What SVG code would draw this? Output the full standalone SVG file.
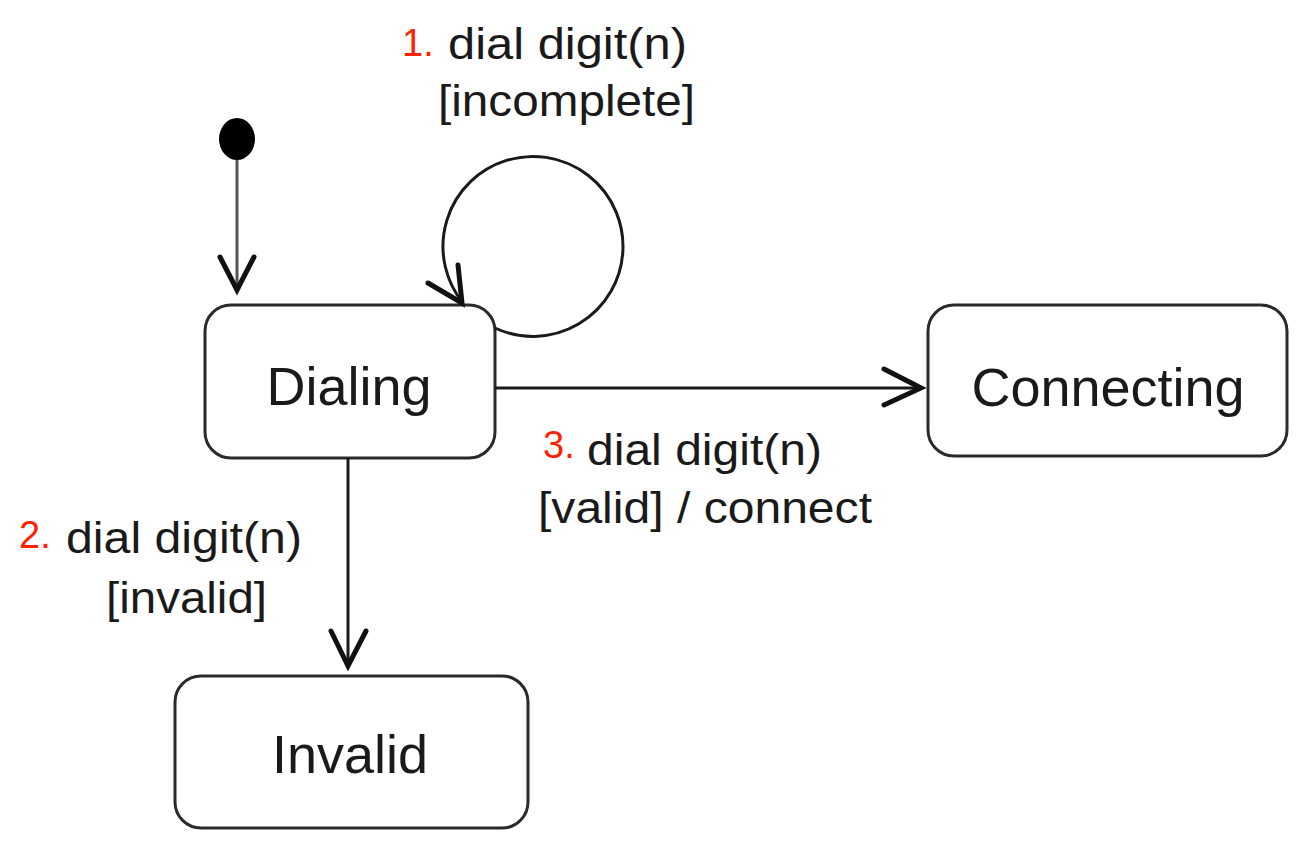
<svg xmlns="http://www.w3.org/2000/svg" width="1306" height="858" viewBox="0 0 1306 858">
<style>
.state{fill:#fff;stroke:#2a2a2a;stroke-width:3}
.name{font-family:"Liberation Sans",Arial,sans-serif;font-size:54px;fill:#1a1a1a;text-anchor:middle}
.lbl{font-family:"Liberation Sans",Arial,sans-serif;font-size:44px;fill:#1a1a1a}
.num{font-family:"Liberation Sans",Arial,sans-serif;font-size:38px;fill:#ff2200}
.edge{fill:none;stroke:#1a1a1a;stroke-width:3}
.head{fill:none;stroke:#111;stroke-width:5;stroke-linecap:round;stroke-linejoin:miter}
</style>
<rect width="1306" height="858" fill="#fff"/>
<g id="initial">
<ellipse cx="237" cy="139" rx="18" ry="21" fill="#000"/>
</g>
<g id="dialing">
<rect class="state" x="205" y="305" width="290" height="153" rx="26"/>
<text class="name" x="349" y="405">Dialing</text>
</g>
<g id="connecting">
<rect class="state" x="928" y="305" width="359" height="151" rx="26"/>
<text class="name" x="1108" y="406">Connecting</text>
</g>
<g id="invalid">
<rect class="state" x="175" y="676" width="353" height="152" rx="26"/>
<text class="name" x="350" y="773">Invalid</text>
</g>
<g id="connectors">
<line x1="237" y1="160" x2="237" y2="290" stroke="#555" stroke-width="3"/>
<polyline class="head" points="220,257 237,290 254,257"/>
<path class="edge" d="M495 328 A90 90 0 1 0 463 303"/>
<polyline class="head" points="428,283 462,303 458,265"/>
<line class="edge" x1="495" y1="388" x2="921" y2="388"/>
<polyline class="head" points="884,369 921,388 884,405"/>
<line class="edge" x1="348" y1="458" x2="348" y2="666"/>
<polyline class="head" points="331,631 348,666 366,631"/>
</g>
<g id="labels">
<text class="num" x="402" y="56">1.</text>
<text class="lbl" x="448" y="59" textLength="239" lengthAdjust="spacingAndGlyphs">dial digit(n)</text>
<text class="lbl" x="438" y="116" textLength="257" lengthAdjust="spacingAndGlyphs">[incomplete]</text>
<text class="num" x="19" y="548">2.</text>
<text class="lbl" x="66" y="553" textLength="236" lengthAdjust="spacingAndGlyphs">dial digit(n)</text>
<text class="lbl" x="106" y="613" textLength="161" lengthAdjust="spacingAndGlyphs">[invalid]</text>
<text class="num" x="543" y="458">3.</text>
<text class="lbl" x="587" y="465" textLength="235" lengthAdjust="spacingAndGlyphs">dial digit(n)</text>
<text class="lbl" x="538" y="523" textLength="334" lengthAdjust="spacingAndGlyphs">[valid] / connect</text>
</g>
</svg>
